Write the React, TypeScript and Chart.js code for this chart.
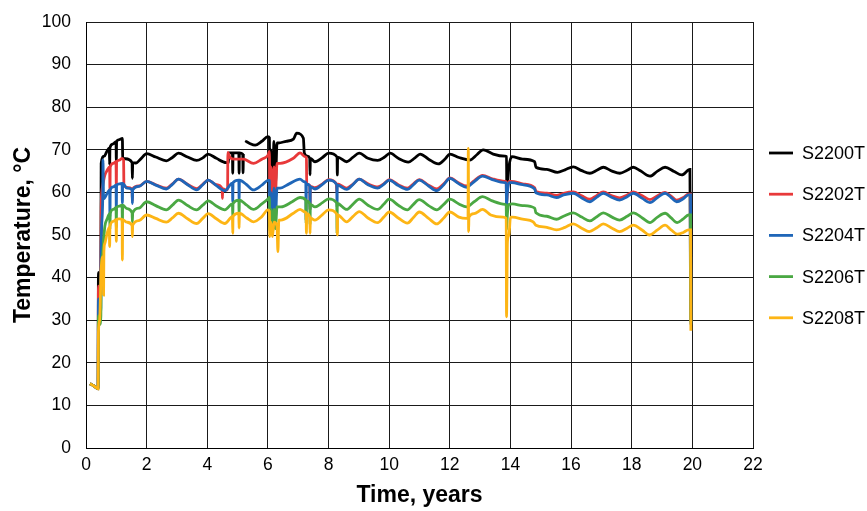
import React, { useEffect, useRef } from "react";
import { Chart, registerables } from "chart.js";

Chart.register(...registerables);

type Pt = [number, number | null];

const seriesNames = ["S2200T", "S2202T", "S2204T", "S2206T", "S2208T"];
const seriesColors = ["#000000", "#E8393A", "#1F66B8", "#4AA843", "#FDB515"];
const xAxisTitle = "Time, years";
const yAxisTitle = "Temperature, °C";
const xRange = [0, 22];
const xStep = 2;
const yRange = [0, 100];
const yStep = 10;

const s2200t: Pt[] = [
  [0.13, 15.1], [0.25, 14.6], [0.4, 13.9], [0.41, 41.2], [0.44, 38], [0.47, 41], [0.49, 41], [0.5, 66.8],
  [0.6, 68.5], [0.7, 69.8], [0.77, 70.4], [0.78, 66.5], [0.79, 70.5], [0.9, 71.4], [0.99, 71.9], [1.0, 67.5],
  [1.01, 72], [1.1, 72.4], [1.2, 72.7], [1.21, 68.2], [1.3, 67.9], [1.52, 67], [1.53, 63.3], [1.54, 67],
  [1.65, 66.9], [1.8, 67.8], [2.0, 69.1], [2.3, 68.3], [2.65, 67.4], [2.85, 68.2], [3.05, 69.2], [3.35, 68.3],
  [3.65, 67.5], [3.85, 68.1], [4.02, 69], [4.3, 68], [4.62, 67], [4.7, 67], [4.71, 69.3], [4.83, 69.3],
  [4.84, 64.5], [4.85, 69.3], [5.04, 69.3], [5.05, 64.5], [5.06, 69.3], [5.17, 69], [5.18, 64.6], [5.19, 69],
  [5.22, null], [5.25, 72.1], [5.4, 71.5], [5.58, 71.1], [5.8, 72], [6.0, 73.1], [6.05, 72.8], [6.06, 60],
  [6.1, 70], [6.15, 58], [6.2, 72], [6.25, 62], [6.3, 71.6], [6.34, 71.6], [6.6, 72], [6.84, 72.5],
  [6.95, 73.9], [7.17, 72.7], [7.2, 69.3], [7.3, 68.5], [7.38, 68], [7.39, 64.1], [7.4, 68], [7.55, 67.2],
  [7.8, 68.2], [8.0, 69.2], [8.28, 68.3], [8.29, 64.1], [8.3, 68.3], [8.6, 67.2], [8.8, 68.2], [9.01, 69.2],
  [9.3, 68], [9.62, 67.5], [9.85, 68.3], [10.03, 69.2], [10.3, 68], [10.63, 67.1], [10.85, 68.1], [11.02, 69],
  [11.3, 67.8], [11.62, 66.7], [11.85, 67.9], [12.0, 69], [12.3, 68.2], [12.66, 67.6], [12.9, 68.9], [13.1, 70],
  [13.43, 69], [13.82, 68.5], [13.87, 68.4], [13.88, 60.6], [13.95, 66], [14.04, 68.4], [14.4, 67.8], [14.8, 67.2],
  [14.84, 65.9], [15.2, 65.4], [15.55, 64.7], [15.8, 65.3], [16.07, 66], [16.35, 65.1], [16.62, 64.5], [16.85, 65.2],
  [17.06, 65.9], [17.35, 65], [17.61, 64.5], [17.85, 65.2], [18.05, 65.9], [18.3, 65], [18.6, 63.8], [18.85, 65],
  [19.1, 65.9], [19.4, 64.9], [19.65, 64.1], [19.92, 65.4], [19.94, 32.4],
];

const s2202t: Pt[] = [
  [0.13, 15.1], [0.25, 14.6], [0.4, 13.9], [0.41, 38], [0.45, 35], [0.49, 36], [0.5, 55], [0.52, 60],
  [0.55, 61.5], [0.62, 64], [0.7, 65.2], [0.78, 66], [0.79, 60.4], [0.8, 66], [0.9, 66.8], [0.99, 67.2],
  [1.0, 61.4], [1.01, 67.2], [1.1, 67.6], [1.19, 68], [1.24, 67.6], [1.25, 61.8], [1.35, 61.2], [1.52, 60.8],
  [1.53, 58], [1.54, 60.8], [1.75, 61.5], [2.0, 62.6], [2.3, 61.8], [2.65, 61], [2.85, 62], [3.05, 63.1],
  [3.35, 61.9], [3.65, 60.9], [3.85, 61.9], [4.03, 62.9], [4.3, 61.8], [4.49, 60.9], [4.5, 58.6], [4.51, 60.9],
  [4.6, 60.6], [4.67, 60.6], [4.68, 69.4], [4.75, 68.2], [4.9, 67.8], [5.19, 67.8], [5.52, 66.8], [5.8, 67.8],
  [6.01, 68.8], [6.05, 69.6], [6.06, 60], [6.1, 66], [6.15, 57.5], [6.2, 66], [6.25, 60], [6.3, 66.8],
  [6.4, 66.8], [6.84, 68], [7.06, 69.3], [7.22, 68.4], [7.27, 68.2], [7.28, 62.1], [7.38, 61.6], [7.39, 56],
  [7.4, 61.4], [7.55, 61.1], [7.8, 62], [8.0, 63], [8.26, 62], [8.27, 60.2], [8.28, 62], [8.6, 61],
  [8.8, 61.9], [9.01, 63.1], [9.3, 62], [9.62, 61.3], [9.82, 62], [10.0, 63], [10.3, 61.8], [10.6, 61],
  [10.8, 62], [10.99, 63], [11.3, 61.7], [11.57, 60.8], [11.8, 62], [12.0, 63.4], [12.3, 62.2], [12.55, 61.5],
  [12.8, 62.7], [13.08, 64], [13.4, 63.2], [13.82, 62.6], [13.86, 62.5], [13.87, 57], [13.9, 60.5], [13.95, 62.6],
  [14.04, 62.6], [14.4, 62], [14.8, 61.1], [14.84, 60.2], [15.2, 59.8], [15.52, 59.3], [15.75, 59.8], [16.07, 60.1],
  [16.35, 59.2], [16.62, 58.4], [16.85, 59.3], [17.06, 60.1], [17.35, 59.2], [17.6, 58.7], [17.85, 59.4], [18.05, 60.1],
  [18.35, 59.2], [18.6, 58.3], [18.85, 59.2], [19.1, 60], [19.3, 59.1], [19.48, 58.2], [19.7, 58.8], [19.87, 59.6],
  [19.94, 59.6], [19.95, 30],
];

const s2204t: Pt[] = [
  [0.13, 15.1], [0.25, 14.6], [0.4, 13.9], [0.41, 35], [0.45, 31], [0.49, 33], [0.5, 47], [0.55, 58],
  [0.56, 67.6], [0.58, 58.5], [0.7, 59.8], [0.78, 60.6], [0.79, 54.3], [0.8, 60.6], [0.9, 61.3], [0.99, 61.7],
  [1.0, 55.8], [1.01, 61.7], [1.1, 62], [1.19, 62.1], [1.2, 57.5], [1.21, 62.1], [1.35, 61], [1.52, 60.6],
  [1.53, 57.4], [1.54, 60.6], [1.75, 61.4], [2.0, 62.6], [2.3, 61.7], [2.65, 60.8], [2.85, 61.9], [3.05, 63.1],
  [3.35, 61.8], [3.65, 60.6], [3.85, 61.8], [4.03, 62.9], [4.3, 61.6], [4.58, 60.4], [4.83, 62.2], [4.84, 57.8],
  [4.85, 62.3], [5.04, 62.9], [5.05, 58.2], [5.06, 62.9], [5.3, 61.8], [5.52, 60.6], [5.8, 61.7], [6.01, 62.8],
  [6.05, 62.8], [6.06, 52], [6.1, 60], [6.15, 51], [6.2, 61], [6.25, 54], [6.3, 61], [6.4, 61],
  [6.7, 62], [7.06, 63.1], [7.2, 62.5], [7.25, 62.3], [7.26, 53.5], [7.27, 62], [7.38, 61.5], [7.39, 55.9],
  [7.4, 61.3], [7.55, 60.8], [7.8, 61.9], [8.0, 62.9], [8.27, 61.8], [8.28, 56.6], [8.29, 61.7], [8.6, 60.7],
  [8.8, 61.8], [9.01, 63.1], [9.3, 61.8], [9.62, 61], [9.82, 61.9], [10.0, 62.9], [10.3, 61.6], [10.6, 60.7],
  [10.8, 61.8], [10.99, 62.9], [11.3, 61.5], [11.57, 60.4], [11.8, 61.8], [12.0, 63.3], [12.3, 62], [12.55, 61.2],
  [12.8, 62.5], [13.08, 63.8], [13.4, 63], [13.82, 62.3], [13.86, 62.2], [13.87, 56.6], [13.9, 60], [13.95, 62.3],
  [14.04, 62.3], [14.4, 61.8], [14.8, 60.8], [14.84, 59.9], [15.2, 59.4], [15.52, 58.8], [15.75, 59.4], [16.07, 59.8],
  [16.35, 58.7], [16.62, 57.8], [16.85, 58.9], [17.06, 59.8], [17.35, 58.8], [17.6, 58.2], [17.85, 59], [18.05, 59.8],
  [18.35, 58.6], [18.6, 57.6], [18.85, 58.8], [19.1, 59.8], [19.3, 58.8], [19.48, 57.8], [19.7, 58.5], [19.87, 59.4],
  [19.94, 59.4], [19.95, 29],
];

const s2206t: Pt[] = [
  [0.13, 15.1], [0.25, 14.6], [0.4, 13.9], [0.41, 31], [0.45, 29], [0.49, 31], [0.5, 40], [0.55, 45.7],
  [0.62, 52], [0.7, 53.8], [0.78, 55], [0.79, 51.3], [0.8, 55.1], [0.9, 56], [0.99, 56.4], [1.0, 51.8],
  [1.01, 56.5], [1.1, 56.8], [1.19, 57], [1.2, 52.5], [1.21, 57], [1.35, 56.2], [1.52, 55.2], [1.53, 53.1],
  [1.54, 55.2], [1.75, 56.3], [2.0, 57.8], [2.3, 56.9], [2.65, 55.9], [2.85, 57], [3.05, 58.2], [3.35, 56.9],
  [3.65, 55.9], [3.85, 57], [4.03, 58], [4.3, 56.8], [4.58, 55.9], [4.83, 57.3], [4.84, 54.3], [4.85, 57.4],
  [5.04, 58.2], [5.05, 54.5], [5.06, 58.2], [5.3, 57], [5.52, 56], [5.8, 57.3], [6.01, 58.5], [6.05, 58.8],
  [6.06, 51], [6.1, 56], [6.15, 50.5], [6.2, 56], [6.25, 51.5], [6.3, 56.6], [6.43, 56.6], [6.8, 57.8],
  [7.06, 58.8], [7.25, 58.2], [7.26, 52.7], [7.27, 58], [7.38, 57.3], [7.39, 52.5], [7.4, 57.2], [7.55, 56.6],
  [7.8, 57.6], [8.0, 58.5], [8.27, 57.5], [8.28, 50.4], [8.29, 57.4], [8.6, 56], [8.8, 57.2], [9.01, 58.4],
  [9.3, 57], [9.62, 56], [9.82, 57.2], [10.0, 58.4], [10.3, 57], [10.6, 55.9], [10.8, 57.2], [10.99, 58.3],
  [11.3, 56.9], [11.57, 55.9], [11.8, 57.2], [12.0, 58.4], [12.3, 57.3], [12.55, 56.6], [12.8, 57.8], [13.08, 59],
  [13.4, 58], [13.82, 57.2], [13.86, 57], [13.87, 51.2], [13.9, 55], [13.95, 57.2], [14.07, 57.3], [14.4, 56.9],
  [14.8, 56.3], [14.84, 55.2], [15.2, 54.4], [15.52, 53.7], [15.75, 54.4], [16.07, 55.2], [16.35, 54.2], [16.62, 53.3],
  [16.85, 54.3], [17.06, 55.2], [17.35, 54.2], [17.6, 53.5], [17.85, 54.4], [18.05, 55.2], [18.35, 54], [18.6, 52.9],
  [18.85, 54.2], [19.1, 55.1], [19.3, 54], [19.5, 52.9], [19.7, 53.8], [19.87, 54.7], [19.94, 54.7], [19.95, 29.5],
];

const s2208t: Pt[] = [
  [0.13, 15.1], [0.25, 14.6], [0.4, 13.9], [0.41, 27], [0.45, 30], [0.5, 41.8], [0.57, 45], [0.58, 35.9],
  [0.59, 46], [0.62, 48], [0.7, 50.5], [0.77, 51.8], [0.78, 47.3], [0.79, 52], [0.9, 53.2], [0.99, 53.6],
  [1.0, 48.5], [1.01, 53.7], [1.1, 53.8], [1.19, 53.7], [1.2, 44.1], [1.21, 53.6], [1.35, 53], [1.52, 52.3],
  [1.53, 49.6], [1.54, 52.3], [1.75, 53.4], [2.0, 54.7], [2.3, 53.9], [2.65, 53], [2.85, 54], [3.05, 55.1],
  [3.35, 53.8], [3.65, 52.7], [3.85, 53.9], [4.03, 55], [4.3, 53.8], [4.58, 52.7], [4.83, 54.3], [4.84, 50.4],
  [4.85, 54.4], [5.04, 55.1], [5.05, 51.6], [5.06, 55.1], [5.3, 54], [5.52, 53.1], [5.8, 54.3], [6.0, 55.9],
  [6.05, 55.6], [6.06, 49.6], [6.1, 53], [6.15, 49.6], [6.2, 53], [6.3, 52], [6.33, 46.1], [6.36, 53.5],
  [6.43, 53.5], [6.84, 55.1], [7.06, 56], [7.22, 55.4], [7.26, 55.2], [7.27, 50.4], [7.28, 55], [7.38, 54.2],
  [7.39, 50.4], [7.4, 54], [7.55, 53.5], [7.8, 54.8], [8.0, 55.9], [8.28, 54.8], [8.29, 50], [8.3, 54.7],
  [8.6, 53.1], [8.8, 54.3], [9.01, 55.5], [9.3, 54], [9.62, 52.9], [9.82, 54.2], [10.0, 55.4], [10.3, 54],
  [10.6, 52.8], [10.8, 54.1], [10.99, 55.4], [11.3, 53.9], [11.57, 52.6], [11.8, 54], [12.0, 55.4], [12.3, 54.2],
  [12.55, 53.9], [12.6, 54], [12.61, 70.3], [12.62, 50.8], [12.63, 54.2], [12.8, 55], [13.08, 56], [13.35, 54.7],
  [13.76, 54.2], [13.86, 53.9], [13.87, 30.8], [13.9, 48.4], [13.95, 50], [14.0, 54.2], [14.07, 54.2], [14.4, 53.7],
  [14.75, 53.1], [14.84, 52.3], [15.2, 51.8], [15.52, 51.2], [15.8, 51.8], [16.07, 52.6], [16.35, 51.6], [16.6, 50.8],
  [16.85, 51.7], [17.06, 52.6], [17.35, 51.6], [17.6, 50.8], [17.85, 51.6], [18.05, 52.3], [18.35, 51.1], [18.58, 50],
  [18.85, 51.2], [19.1, 52.3], [19.3, 51.2], [19.5, 50.2], [19.7, 50.6], [19.87, 51.2], [19.94, 51.2], [19.95, 27.5],
];

const seriesData: Pt[][] = [s2200t, s2202t, s2204t, s2206t, s2208t];

const FONT = '"Liberation Sans", Arial, Helvetica, sans-serif';

const legendPlugin = {
  id: "rightLegend",
  afterDraw(chart: any) {
    const { ctx, chartArea } = chart;
    const lineStart = chartArea.right + 16;
    const lineEnd = lineStart + 24;
    const textX = lineEnd + 9;
    const firstY = chartArea.top + 131;
    const gap = 41.2;
    ctx.save();
    ctx.font = `18px ${FONT}`;
    ctx.textBaseline = "middle";
    ctx.textAlign = "left";
    seriesNames.forEach((name, i) => {
      const y = firstY + i * gap;
      ctx.strokeStyle = seriesColors[i];
      ctx.lineWidth = 2.8;
      ctx.beginPath();
      ctx.moveTo(lineStart, y);
      ctx.lineTo(lineEnd, y);
      ctx.stroke();
      ctx.fillStyle = "#000";
      ctx.fillText(name, textX, y + 1);
    });
    ctx.restore();
  },
};

export default function App() {
  const canvasRef = useRef<HTMLCanvasElement | null>(null);

  useEffect(() => {
    const canvas = canvasRef.current;
    if (!canvas) return;
    const chart = new Chart(canvas, {
      type: "line",
      data: {
        datasets: seriesData.map((arr, i) => ({
          label: seriesNames[i],
          data: arr.map(([x, y]) => ({ x, y })),
          borderColor: seriesColors[i],
          backgroundColor: seriesColors[i],
          borderWidth: 2.8,
          pointRadius: 0,
          pointHoverRadius: 0,
          fill: false,
          cubicInterpolationMode: "monotone" as const,
          spanGaps: false,
          order: seriesNames.length - 1 - i,
        })),
      },
      options: {
        animation: false,
        responsive: false,
        maintainAspectRatio: false,
        parsing: true,
        layout: { padding: { left: 0, top: 22, right: 114, bottom: 0 } },
        plugins: {
          legend: { display: false },
          tooltip: { enabled: false },
        },
        scales: {
          x: {
            type: "linear",
            min: xRange[0],
            max: xRange[1],
            afterFit: (scale: any) => {
              scale.height = 63;
              scale.paddingLeft = 0;
              scale.paddingRight = 0;
            },
            ticks: {
              stepSize: xStep,
              color: "#000",
              font: { family: FONT, size: 17.5 },
              padding: 7,
              maxRotation: 0,
            },
            grid: { color: "#1a1a1a", lineWidth: 1, drawTicks: false },
            border: { display: true, color: "#000", width: 1 },
            title: {
              display: true,
              text: xAxisTitle,
              color: "#000",
              font: { family: FONT, size: 23, weight: "bold" },
              padding: { top: 0, bottom: 2 },
            },
          },
          y: {
            type: "linear",
            min: yRange[0],
            max: yRange[1],
            afterFit: (scale: any) => {
              scale.width = 86;
              scale.paddingTop = 0;
              scale.paddingBottom = 0;
            },
            ticks: {
              stepSize: yStep,
              color: "#000",
              font: { family: FONT, size: 17.5 },
              padding: 15,
            },
            grid: { color: "#1a1a1a", lineWidth: 1, drawTicks: false },
            border: { display: true, color: "#000", width: 1 },
            title: {
              display: true,
              text: yAxisTitle,
              color: "#000",
              font: { family: FONT, size: 23, weight: "bold" },
              padding: { top: 10, bottom: 0 },
            },
          },
        },
      },
      plugins: [legendPlugin],
    });
    return () => chart.destroy();
  }, []);

  return (
    <div style={{ position: "fixed", left: 0, top: 0, width: 867, height: 511, background: "#fff" }}>
      <canvas ref={canvasRef} width={867} height={511} style={{ display: "block" }} />
    </div>
  );
}
